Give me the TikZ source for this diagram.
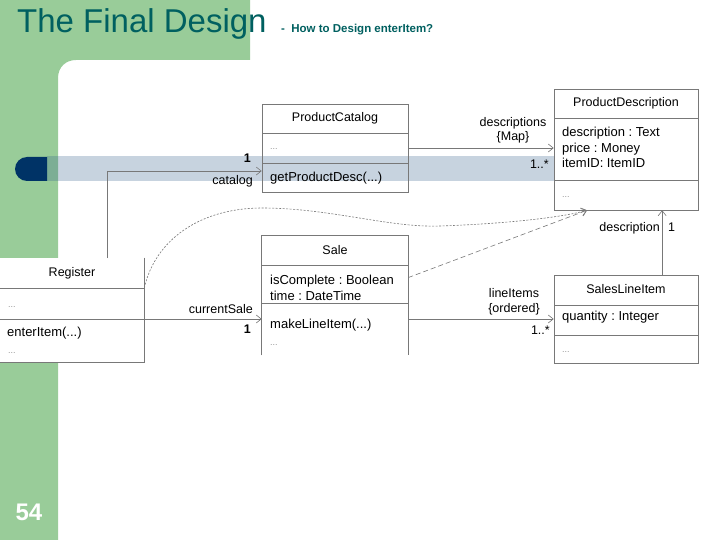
\documentclass[tikz,border=0pt]{standalone}
\usepackage{fontspec}
\setmainfont{Liberation Sans}
\usetikzlibrary{arrows.meta,calc}
\pgfdeclarelayer{background}
\pgfsetlayers{background,main}
\frenchspacing
\definecolor{slidegreen}{RGB}{153,204,153}
\definecolor{titleteal}{RGB}{0,96,96}
\definecolor{tabblue}{RGB}{0,51,102}
\definecolor{bandblue}{RGB}{47,93,138}
\definecolor{umlgray}{RGB}{120,120,120}
\definecolor{dotgray}{RGB}{150,150,150}

\begin{document}
\begin{tikzpicture}[x=1pt, y=-1pt,
    classbox/.style={draw=umlgray, line width=0.6pt, fill=white, minimum width=146pt, inner sep=0pt},
    ctitle/.style={inner sep=0pt, font=\fontsize{12.5}{14}\selectfont},
    member/.style={anchor=base west, inner sep=0pt, font=\fontsize{13}{15}\selectfont},
    dots/.style={anchor=base west, inner sep=0pt, text=dotgray, font=\fontsize{9}{10}\selectfont},
    role/.style={inner sep=0pt, font=\fontsize{12.5}{14}\selectfont},
    divider/.style={draw=umlgray, line width=0.6pt},
    assoc/.style={draw=umlgray, line width=0.6pt, -{Straight Barb[length=5pt,width=8pt]}},
    depend/.style={assoc, dash pattern=on 5pt off 3pt}]
    \useasboundingbox (0,0) rectangle (720,540);

    % slide frame
    \begin{pgfonlayer}{background}
    \fill[white] (0,0) rectangle (720,540);
    \fill[slidegreen] (0,0) -- (250,0) -- (250,60) -- (76,60)
        .. controls (66,60) and (58,67) .. (58,78) -- (58,540) -- (0,540) -- cycle;
    \fill[bandblue, opacity=0.265] (47,156) rectangle (554,181);
    \fill[tabblue] (47,157) -- (27,157) arc[start angle=270, end angle=90, radius=12] -- (47,181) -- cycle;
    \end{pgfonlayer}

    \node[anchor=base west, inner sep=0pt, text=titleteal, font=\fontsize{33}{33}\selectfont] (title) at (17,33) {The Final Design};
    \node[anchor=base west, inner sep=0pt, text=titleteal, font=\bfseries\fontsize{11.5}{12}\selectfont] (subtitle) at (281,33) {-\ \ How to Design enterItem?};
    \node[anchor=base, inner sep=0pt, text=white, font=\bfseries\fontsize{24}{24}\selectfont] (pagenum) at (29,520) {54};

    % ProductCatalog
    \node[classbox, fill=none, minimum height=88pt] (cat) at (335,148) {};
    \draw[divider] (262,133) -- (408,133);
    \draw[divider] (262,163) -- (408,163);
    \node[ctitle] (catname) at (335,118) {ProductCatalog};
    \node[dots] at (270,150) {...};
    \node[member] at (270,182) {getProductDesc(...)};

    % ProductDescription
    \node[classbox, minimum width=144pt, minimum height=121pt] (pd) at (626,149.5) {};
    \draw[divider] (554,118) -- (698,118);
    \draw[divider] (554,180) -- (698,180);
    \node[ctitle] (pdname) at (626,103) {ProductDescription};
    \node[member] at (562,137) {description : Text};
    \node[member] at (562,152.5) {price : Money};
    \node[member] at (562,168) {itemID: ItemID};
    \node[dots] at (562,198) {...};

    % Register
    \node[classbox, draw=none, minimum width=144pt, minimum height=104pt] (reg) at (72,310) {};
    \draw[divider] (reg.north east) -- (reg.south east) -- (reg.south west);
    \draw[divider] (0,288) -- (144,288);
    \draw[divider] (0,319) -- (144,319);
    \node[ctitle] (regname) at (72,273) {Register};
    \node[dots] at (8,307) {...};
    \node[member] at (7,336) {enterItem(...)};
    \node[dots] at (8,353) {...};

    % Sale
    \node[classbox, draw=none, minimum height=119pt] (sale) at (335,295.5) {};
    \draw[divider] (sale.south west) -- (sale.north west) -- (sale.north east) -- (sale.south east);
    \draw[divider] (262,265) -- (408,265);
    \draw[divider] (262,303) -- (408,303);
    \node[ctitle] (salename) at (335,250) {Sale};
    \node[member] at (270,284) {isComplete : Boolean};
    \node[member] at (270,300) {time : DateTime};
    \node[member] at (270,328) {makeLineItem(...)};
    \node[dots] at (270,345) {...};

    % SalesLineItem
    \node[classbox, minimum width=144pt, minimum height=88pt] (sli) at (626,319) {};
    \draw[divider] (554,305) -- (698,305);
    \draw[divider] (554,335) -- (698,335);
    \node[ctitle] (sliname) at (626,289) {SalesLineItem};
    \node[member] at (562,320) {quantity : Integer};
    \node[dots] at (562,352) {...};

    % connectors
    \coordinate (catfoot) at (107,258);
    \coordinate (regtop) at ($(reg.north east)!0.29!(reg.south east)$);
    \coordinate (regrow) at (144,319);
    \coordinate (pdfoot) at ($(pd.south west)!0.23!(pd.south east)$);
    \draw[assoc] (catfoot) |- ($(cat.south west)!0.24!(cat.north west)$);
    \draw[assoc] (cat.east) -- (cat.east -| pd.west);
    \draw[assoc] (regrow) -- (regrow -| sale.west);
    \draw[assoc] (sale.east |- sli.west) -- (sli.west);
    \draw[assoc] ($(sli.north west)!0.75!(sli.north east)$) -- ($(pd.south west)!0.75!(pd.south east)$);
    \draw[depend] ($(sale.north east)!0.35!(sale.south east)$) -- (pdfoot);
    \draw[depend, dash pattern=on 2pt off 1.5pt] (regtop) .. controls (155,240) and (200,208) .. (262,208)
        .. controls (330,208) and (390,228) .. (440,226) .. controls (500,224) and (560,218) .. (pdfoot);

    % association labels
    \node[role, anchor=base east, font=\bfseries\fontsize{12.5}{14}\selectfont] at (251,163) {1};
    \node[role, anchor=base east] at (253,185) {catalog};
    \node[role, anchor=base east] at (253,313) {currentSale};
    \node[role, anchor=base east, font=\bfseries\fontsize{12.5}{14}\selectfont] at (251,333) {1};
    \node[role, anchor=base] at (513,127) {descriptions};
    \node[role, anchor=base] at (513,141) {\{Map\}};
    \node[role, anchor=base east] at (549,169) {1..*};
    \node[role, anchor=base] at (514,297) {lineItems};
    \node[role, anchor=base] at (514,312) {\{ordered\}};
    \node[role, anchor=base east] at (550,334) {1..*};
    \node[role, anchor=base east] at (660,231) {description};
    \node[role, anchor=base west] at (668,231) {1};
\end{tikzpicture}
\end{document}
